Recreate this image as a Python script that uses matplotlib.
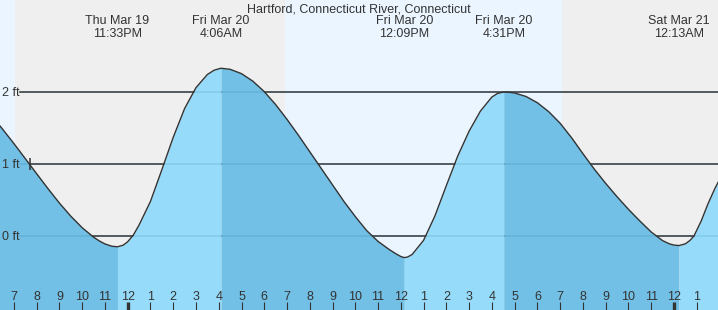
import numpy as np
import matplotlib
matplotlib.use("Agg")
import matplotlib.pyplot as plt
import matplotlib.transforms as mtransforms

# hours counted from Thu Mar 19 00:00, heights in ft
hours = [18.0, 18.5, 19.0, 19.5, 20.0, 20.5, 21.0, 21.5, 22.0, 22.5, 22.75, 23.0, 23.3, 23.55,
         23.8, 24.0, 24.25, 24.5, 25.0, 25.5, 26.0, 26.5, 27.0, 27.5, 27.8, 28.1,
         28.5, 29.0, 29.5, 30.0, 30.5, 31.0, 31.5, 32.0, 32.5, 33.0, 33.5, 34.0,
         34.5, 35.0, 35.5, 35.8, 36.0, 36.15,
         36.3, 36.5, 37.0, 37.5, 38.0, 38.5, 39.0, 39.5, 40.0, 40.25, 40.52,
         40.8, 41.0, 41.5, 42.0, 42.5, 43.0, 43.5, 44.0, 44.5, 45.0, 45.5, 46.0, 46.5,
         47.0, 47.5, 47.8, 48.0, 48.22,
         48.5, 48.7, 48.88, 49.2, 49.5, 49.8, 50.0]
heights = [1.68, 1.485, 1.284, 1.075, 0.865, 0.657, 0.457, 0.275, 0.115, -0.016, -0.068, -0.11, -0.142, -0.15,
           -0.128, -0.08, 0.014, 0.153, 0.48, 0.92, 1.37, 1.77, 2.06, 2.243, 2.303, 2.33,
           2.315, 2.255, 2.15, 2.005, 1.825, 1.62, 1.40, 1.17, 0.94, 0.71, 0.48, 0.27,
           0.075, -0.075, -0.19, -0.25, -0.285, -0.30,
           -0.292, -0.256, -0.06, 0.28, 0.70, 1.11, 1.456, 1.736, 1.93, 1.98, 2.0,
           1.994, 1.986, 1.938, 1.851, 1.726, 1.566, 1.366, 1.144, 0.929, 0.731, 0.546, 0.371, 0.209,
           0.056, -0.064, -0.109, -0.126, -0.133,
           -0.109, -0.063, 0.0, 0.21, 0.45, 0.66, 0.78]

# high / low events
event_hours = [23.55, 28.1, 36.15, 40.52, 48.22]
event_day = ["Thu Mar 19", "Fri Mar 20", "Fri Mar 20", "Fri Mar 20", "Sat Mar 21"]
event_time = ["11:33PM", "4:06AM", "12:09PM", "4:31PM", "12:13AM"]

# sunset / sunrise
sun_edges = [18.0, 19.05, 30.9, 43.08, 50.0]
sun_is_day = [True, False, True, False]

tick_hours = list(range(19, 50))
y_levels = [0, 1, 2]
now_hour, now_height = 19.71, 1.0

title = "Hartford, Connecticut River, Connecticut"

DAY_BG = "#ebf5ff"
NIGHT_BG = "#efefef"
RISE = "#96dcfa"
FALL = "#72c0e5"
INK = "#333333"

plt.rcParams["font.family"] = ["Liberation Sans", "DejaVu Sans"]

W, H = 718, 310
fig = plt.figure(figsize=(W / 100, H / 100), dpi=100)
ax = fig.add_axes([0, 0, 1, 1])

px_per_hr = 22.76
x0 = 24 - 127.7 / px_per_hr
ax.set_xlim(x0, x0 + W / px_per_hr)
ax.set_ylim((236 - H) / 72, 236 / 72)

for i, day in enumerate(sun_is_day):
    ax.axvspan(sun_edges[i], sun_edges[i + 1], color=DAY_BG if day else NIGHT_BG,
               lw=0, zorder=0)

for lv in y_levels:
    ax.axhline(lv, xmin=20 / W, xmax=1, color=INK, lw=1.1, zorder=0.5)

t = np.array(hours)
h = np.array(heights)
bottom = ax.get_ylim()[0]
bounds = [t[0]] + event_hours + [t[-1]]
for i in range(len(bounds) - 1):
    m = (t >= bounds[i]) & (t <= bounds[i + 1])
    rising = h[m][-1] > h[m][0]
    ax.fill_between(t[m], h[m], bottom, color=RISE if rising else FALL,
                    lw=0, zorder=1)

# grid lines show faintly through the water
for lv in y_levels:
    ax.axhline(lv, xmin=20 / W, xmax=1, color="#1a5a80", lw=1.1, alpha=0.15, zorder=1.5)

ax.plot(t, h, color=INK, lw=1.0, zorder=2, solid_joinstyle="round")
ax.plot([now_hour], [now_height], marker="|", ms=8, mew=1.1, color=INK, zorder=2)

# labels
trans = mtransforms.blended_transform_factory(ax.transData, ax.transAxes)
ax.text(0.5, 1 - 3 / H, title, transform=ax.transAxes, ha="center", va="top",
        fontsize=9, color=INK)
for eh, d, tm in zip(event_hours, event_day, event_time):
    ax.text(eh, 1 - 15 / H, d, transform=trans, ha="center", va="top",
            fontsize=9, color=INK)
    ax.text(eh, 1 - 28 / H, tm, transform=trans, ha="center", va="top",
            fontsize=9, color=INK)

ax.set_xticks(tick_hours)
ax.set_xticklabels([str((hr - 1) % 12 + 1) for hr in tick_hours])
ax.tick_params(axis="x", direction="in", length=5.8, width=0.8, color=INK,
               labelcolor=INK, labelsize=9, pad=-13.5)
for tk, hr in zip(ax.xaxis.get_major_ticks(), tick_hours):
    if hr % 24 == 0:
        tk.tick1line.set_markeredgewidth(2.4)

ax.set_yticks(y_levels)
ax.set_yticklabels([f"{lv} ft" for lv in y_levels])
ax.tick_params(axis="y", direction="in", length=0, labelcolor=INK, labelsize=9,
               pad=-14)
ax.set_axisbelow(False)
for s in ax.spines.values():
    s.set_visible(False)

fig.savefig("out.png", dpi=100)
